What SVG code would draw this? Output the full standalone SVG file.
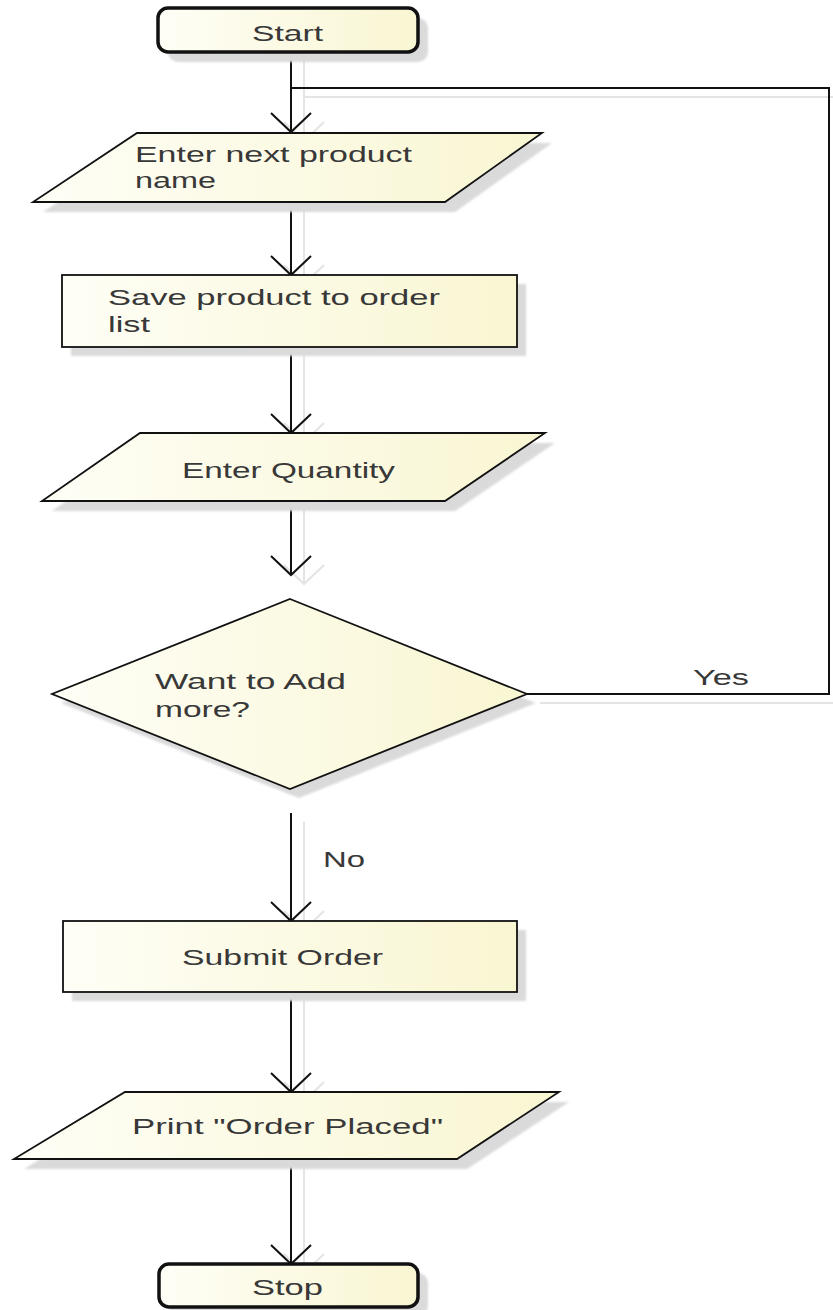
<svg xmlns="http://www.w3.org/2000/svg" width="833" height="1310" viewBox="0 0 833 1310">
  <defs>
    <linearGradient id="fillGrad" x1="0" y1="0" x2="1" y2="0">
      <stop offset="0" stop-color="#fefef6"/>
      <stop offset="1" stop-color="#f9f6d2"/>
    </linearGradient>
    <filter id="soft" x="-10%" y="-10%" width="120%" height="130%">
      <feGaussianBlur stdDeviation="1.2"/>
    </filter>
    <marker id="arrow" markerUnits="userSpaceOnUse" markerWidth="44" markerHeight="44" refX="0" refY="0" orient="auto" overflow="visible">
      <path d="M-19,-20 L0,0 L-19,20" fill="none" stroke="#111" stroke-width="2"/>
    </marker>
    <marker id="arrowShadow" markerUnits="userSpaceOnUse" markerWidth="44" markerHeight="44" refX="0" refY="0" orient="auto" overflow="visible">
      <path d="M-19,-20 L0,0 L-19,20" fill="none" stroke="#e4e4e4" stroke-width="2"/>
    </marker>
  </defs>
  <style>
    .shape { fill: url(#fillGrad); stroke: #111; stroke-width: 1.8; }
    .term { fill: url(#fillGrad); stroke: #111; stroke-width: 3.5; }
    .shadow { fill: #dadada; stroke: none; filter: url(#soft); }
    .lbl { font-family: "Liberation Sans", Arial, sans-serif; font-size: 22px; fill: #383838; }
    .conn { fill: none; stroke: #111; stroke-width: 2; }
    .connShadow { fill: none; stroke: #e4e4e4; stroke-width: 2; }
  </style>
  <rect width="833" height="1310" fill="#ffffff"/>

  <g id="connector-shadows" transform="translate(13,9)">
    <path class="connShadow" d="M291,52 V132" marker-end="url(#arrowShadow)"/>
    <path class="connShadow" d="M291,202 V275" marker-end="url(#arrowShadow)"/>
    <path class="connShadow" d="M291,347 V433" marker-end="url(#arrowShadow)"/>
    <path class="connShadow" d="M291,501 V575" marker-end="url(#arrowShadow)"/>
    <path class="connShadow" d="M291,813 V921" marker-end="url(#arrowShadow)"/>
    <path class="connShadow" d="M291,992 V1092" marker-end="url(#arrowShadow)"/>
    <path class="connShadow" d="M291,1159 V1264" marker-end="url(#arrowShadow)"/>
    <path class="connShadow" d="M527,694 H829 V88 H291"/>
  </g>

  <g id="connectors">
    <path class="conn" d="M291,52 V132" marker-end="url(#arrow)"/>
    <path class="conn" d="M291,202 V275" marker-end="url(#arrow)"/>
    <path class="conn" d="M291,347 V433" marker-end="url(#arrow)"/>
    <path class="conn" d="M291,501 V575" marker-end="url(#arrow)"/>
    <path class="conn" d="M291,813 V921" marker-end="url(#arrow)"/>
    <path class="conn" d="M291,992 V1092" marker-end="url(#arrow)"/>
    <path class="conn" d="M291,1159 V1264" marker-end="url(#arrow)"/>
    <path class="conn" d="M527,694 H829 V88 H291"/>
    <text class="lbl" x="693" y="685" textLength="56" lengthAdjust="spacingAndGlyphs">Yes</text>
    <text class="lbl" x="323" y="867" textLength="42" lengthAdjust="spacingAndGlyphs">No</text>
  </g>

  <g id="start">
    <rect class="shadow" x="168" y="18" width="260" height="44" rx="10"/>
    <rect class="term" x="158" y="8" width="260" height="44" rx="10"/>
    <text class="lbl" x="252" y="41" textLength="71" lengthAdjust="spacingAndGlyphs">Start</text>
  </g>

  <g id="enter-product">
    <polygon class="shadow" points="147,143 552,143 455,212 43,212"/>
    <polygon class="shape" points="137,133 542,133 445,202 33,202"/>
    <text class="lbl" x="135" y="162" textLength="277" lengthAdjust="spacingAndGlyphs">Enter next product</text>
    <text class="lbl" x="135" y="188" textLength="81" lengthAdjust="spacingAndGlyphs">name</text>
  </g>

  <g id="save-product">
    <rect class="shadow" x="71" y="284" width="455" height="72"/>
    <rect class="shape" x="62" y="275" width="455" height="72"/>
    <text class="lbl" x="108" y="305" textLength="332" lengthAdjust="spacingAndGlyphs">Save product to order</text>
    <text class="lbl" x="108" y="332" textLength="42" lengthAdjust="spacingAndGlyphs">list</text>
  </g>

  <g id="enter-quantity">
    <polygon class="shadow" points="150,443 555,443 455,511 52,511"/>
    <polygon class="shape" points="140,433 545,433 445,501 42,501"/>
    <text class="lbl" x="182" y="478" textLength="213" lengthAdjust="spacingAndGlyphs">Enter Quantity</text>
  </g>

  <g id="decision">
    <polygon class="shadow" points="299,608 536,703 299,798 61,703"/>
    <polygon class="shape" points="290,599 527,694 290,789 52,694"/>
    <text class="lbl" x="155" y="689" textLength="191" lengthAdjust="spacingAndGlyphs">Want to Add</text>
    <text class="lbl" x="155" y="717" textLength="95" lengthAdjust="spacingAndGlyphs">more?</text>
  </g>

  <g id="submit-order">
    <rect class="shadow" x="72" y="930" width="454" height="71"/>
    <rect class="shape" x="63" y="921" width="454" height="71"/>
    <text class="lbl" x="182" y="965" textLength="201" lengthAdjust="spacingAndGlyphs">Submit Order</text>
  </g>

  <g id="print-order">
    <polygon class="shadow" points="135,1102 569,1102 467,1169 24,1169"/>
    <polygon class="shape" points="125,1092 559,1092 457,1159 14,1159"/>
    <text class="lbl" x="132" y="1134" textLength="311" lengthAdjust="spacingAndGlyphs">Print "Order Placed"</text>
  </g>

  <g id="stop">
    <rect class="shadow" x="169" y="1273" width="259" height="43" rx="10"/>
    <rect class="term" x="159" y="1264" width="259" height="43" rx="10"/>
    <text class="lbl" x="252" y="1295" textLength="71" lengthAdjust="spacingAndGlyphs">Stop</text>
  </g>
</svg>
